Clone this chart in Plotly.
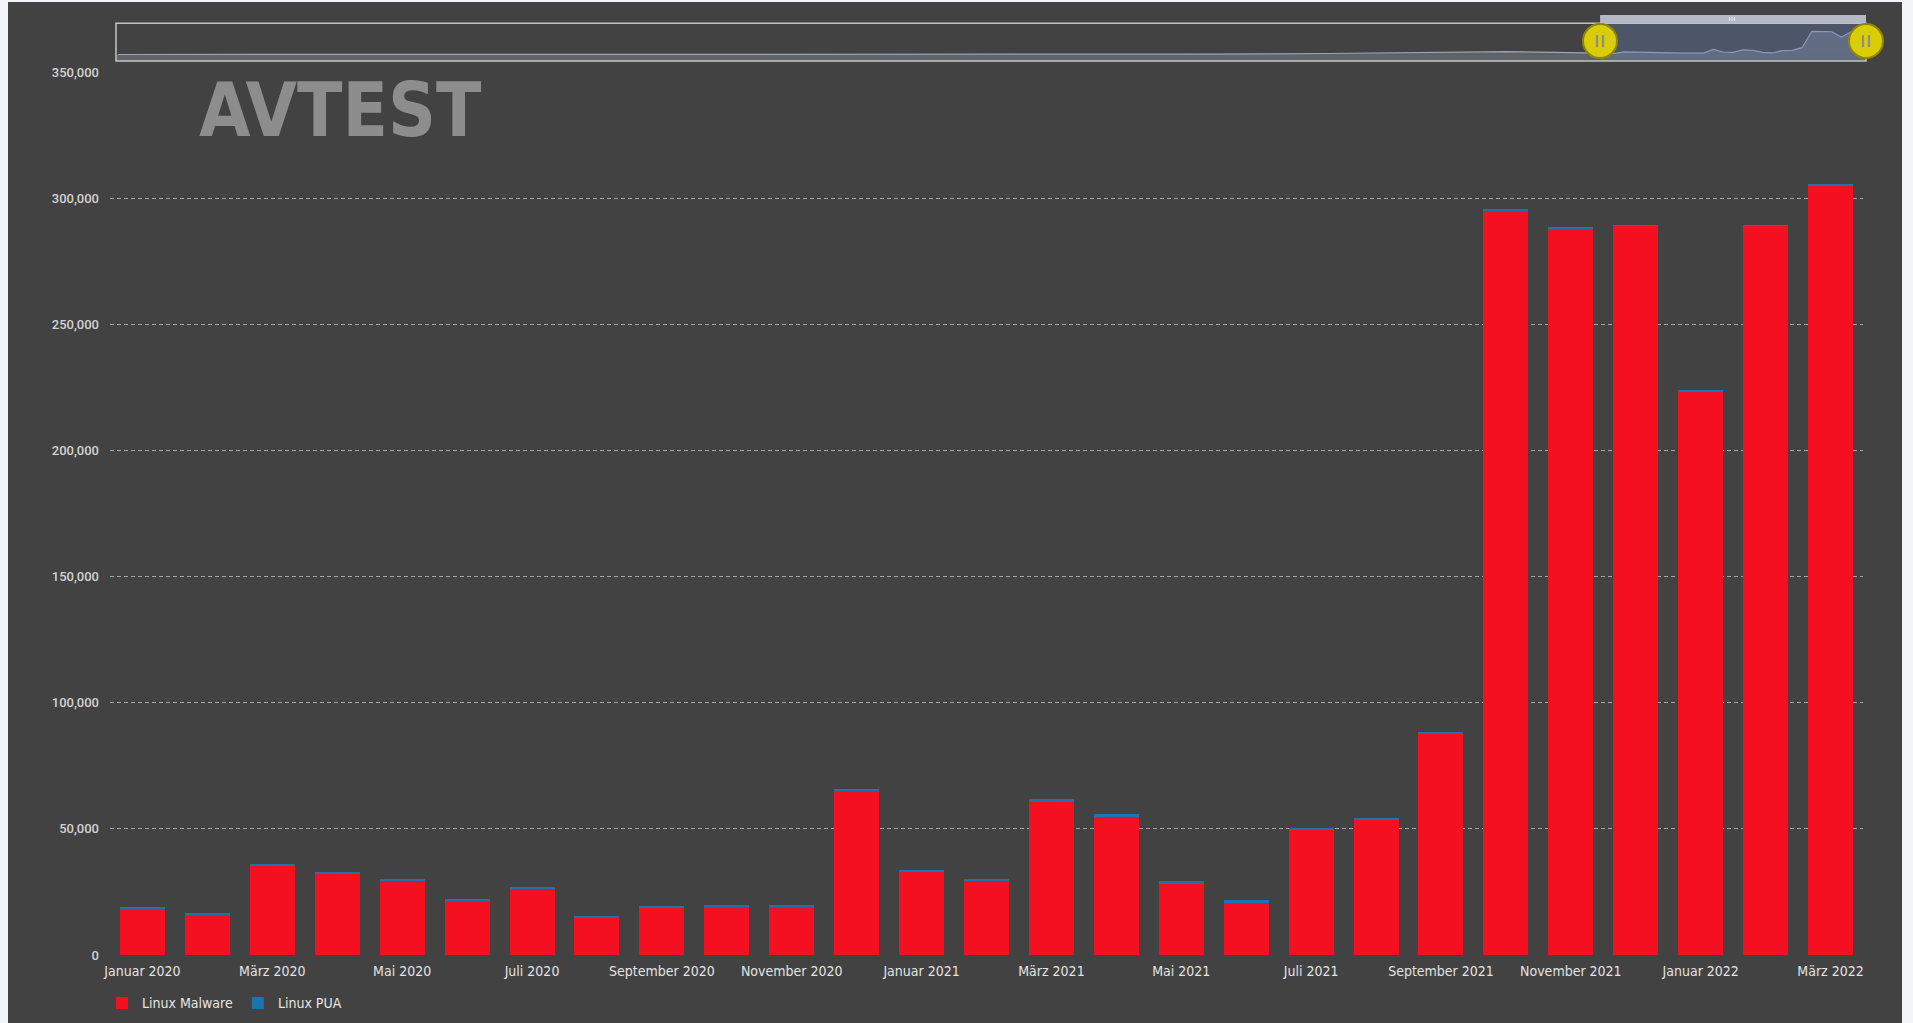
import plotly.graph_objects as go

# ---------------- data ----------------
months = [
    "Januar 2020", "Februar 2020", "März 2020", "April 2020", "Mai 2020", "Juni 2020",
    "Juli 2020", "August 2020", "September 2020", "Oktober 2020", "November 2020", "Dezember 2020",
    "Januar 2021", "Februar 2021", "März 2021", "April 2021", "Mai 2021", "Juni 2021",
    "Juli 2021", "August 2021", "September 2021", "Oktober 2021", "November 2021", "Dezember 2021",
    "Januar 2022", "Februar 2022", "März 2022",
]
linux_malware = [
    18400, 16100, 35300, 32100, 29400, 21700, 26400, 14800, 19000, 19100, 19400, 65200,
    33000, 29400, 60600, 54600, 28100, 20800, 49600, 53600, 87800, 295000, 287900, 289000,
    223300, 289000, 305200,
]
linux_pua = [
    400, 500, 400, 400, 400, 400, 500, 400, 400, 400, 400, 300,
    500, 400, 1200, 1100, 1200, 900, 500, 500, 300, 400, 300, 300,
    300, 300, 300,
]
# navigator history before Jan 2020 (month offsets relative to Jan 2020, rough estimates)
nav_hist_offsets = [-151, -100, -60, -40, -28, -18, -10, -5, -1]
nav_hist_values = [2000, 3000, 4000, 7000, 15000, 28000, 38000, 30000, 20000]

y_ticks = [0, 50000, 100000, 150000, 200000, 250000, 300000, 350000]
x_tick_labels = months[::2]

# ---------------- layout geometry (pixels) ----------------
W, H = 1913, 1023
L, R, T = 110, 47, 23
PLOT_BOTTOM = 954.7
B = H - PLOT_BOTTOM
PH = PLOT_BOTTOM - T
PW = W - L - R


def px_x(p):
    return (p - L) / PW


def px_y(p):
    return (PLOT_BOTTOM - p) / PH


RED = "#f40f21"
BLUE = "#1b74ab"
BG = "#424242"
NARROW = "Liberation Sans Narrow, DejaVu Sans Condensed, Arial Narrow, sans-serif"

fig = go.Figure()
fig.add_trace(go.Bar(
    x=months, y=linux_malware, name="Linux Malware",
    marker=dict(color=RED, line=dict(width=0)), width=0.693,
))
fig.add_trace(go.Bar(
    x=months, y=linux_pua, name="Linux PUA",
    marker=dict(color=BLUE, line=dict(width=0)), width=0.693,
))

nav_x = nav_hist_offsets + list(range(len(months)))
nav_y = nav_hist_values + [m + p for m, p in zip(linux_malware, linux_pua)]
fig.add_trace(go.Scatter(
    x=nav_x, y=nav_y, xaxis="x2", yaxis="y2", mode="lines",
    line=dict(color="#9aa3b8", width=1.2), fill="tozeroy",
    fillcolor="rgba(170,175,190,0.30)", showlegend=False, hoverinfo="skip",
))

NAV_MIN = -80000
shapes = []
# page + container background
shapes.append(dict(type="rect", xref="paper", yref="paper", layer="below",
                   x0=px_x(8), x1=px_x(1902), y0=px_y(1030), y1=px_y(2),
                   fillcolor=BG, line=dict(width=0)))
# navigator band below zero
shapes.append(dict(type="rect", xref="x2", yref="y2", layer="below",
                   x0=-151.2, x1=26.5, y0=NAV_MIN, y1=0,
                   fillcolor="rgba(170,175,190,0.30)", line=dict(width=0)))
# navigator selection mask
shapes.append(dict(type="rect", xref="x2", yref="paper", layer="above",
                   x0=-0.5, x1=26.5, y0=px_y(61), y1=px_y(23.5),
                   fillcolor="rgba(102,133,194,0.30)", line=dict(width=0)))
# navigator outline
shapes.append(dict(type="rect", xref="paper", yref="paper", layer="above",
                   x0=px_x(116), x1=px_x(1866), y0=px_y(61), y1=px_y(23.3),
                   fillcolor="rgba(0,0,0,0)", line=dict(color="#c4c4c4", width=1.5)))
# scrollbar
shapes.append(dict(type="rect", xref="x2", yref="paper", layer="above",
                   x0=-0.5, x1=26.5, y0=px_y(23.5), y1=px_y(15),
                   fillcolor="#b5b9c6", line=dict(width=0)))
for dx in (-2.5, 0, 2.5):
    cx = 1732 + dx
    shapes.append(dict(type="line", xref="paper", yref="paper", layer="above",
                       x0=px_x(cx), x1=px_x(cx), y0=px_y(21), y1=px_y(17),
                       line=dict(color="#e8e8ee", width=1)))
# handles
for hx in (1600, 1866):
    shapes.append(dict(type="circle", xref="paper", yref="paper", layer="above",
                       x0=px_x(hx - 17), x1=px_x(hx + 17), y0=px_y(41 + 17), y1=px_y(41 - 17),
                       fillcolor="#d8cd06", line=dict(color="#8f8700", width=2)))
    for dx in (-3, 3):
        shapes.append(dict(type="line", xref="paper", yref="paper", layer="above",
                           x0=px_x(hx + dx), x1=px_x(hx + dx), y0=px_y(47), y1=px_y(35),
                           line=dict(color="#8e8e86", width=2.2)))

annotations = [
    dict(text="<b>AVTEST</b>", xref="paper", yref="paper", x=px_x(197), y=px_y(110),
         xanchor="left", yanchor="middle", showarrow=False,
         font=dict(family=NARROW, size=74, color="#8d8d8d")),
]

fig.update_layout(
    width=W, height=H,
    margin=dict(l=L, r=R, t=T, b=B, pad=0, autoexpand=False),
    paper_bgcolor="#f2f4f7", plot_bgcolor=BG,
    barmode="stack", bargap=0.307,
    showlegend=True,
    legend=dict(orientation="h", x=px_x(102), y=px_y(1003), xanchor="left", yanchor="middle",
                font=dict(family=NARROW, size=14, color="#e6e6e6"),
                bgcolor="rgba(0,0,0,0)", traceorder="normal", itemclick=False),
    xaxis=dict(domain=[0, px_x(1863)], type="category", range=[-0.5, 26.5],
               tickmode="array", tickvals=x_tick_labels, ticktext=x_tick_labels,
               showgrid=False, zeroline=False, showline=False, ticks="",
               ticklabelstandoff=6, automargin=False,
               tickfont=dict(family=NARROW, size=14, color="#e3e3e3"), fixedrange=True),
    yaxis=dict(domain=[0, px_y(72)], range=[0, 350000], tickmode="array", tickvals=y_ticks,
               tickformat=",", showgrid=True, gridcolor="#a6a6a6", gridwidth=1,
               griddash="4px,3px", zeroline=False, showline=False, ticks="",
               ticklabelstandoff=10, automargin=False,
               tickfont=dict(family="Roboto, sans-serif", size=13, color="#d2d2d2",
                             weight=500), fixedrange=True),
    xaxis2=dict(domain=[px_x(116), 1], anchor="y2", range=[-151.2, 26.5], visible=False,
                fixedrange=True),
    yaxis2=dict(domain=[px_y(61), 1], anchor="x2", range=[NAV_MIN, 400000], visible=False,
                fixedrange=True),
    shapes=shapes,
    annotations=annotations,
    font=dict(family=NARROW),
)

fig.write_html("out.html")
